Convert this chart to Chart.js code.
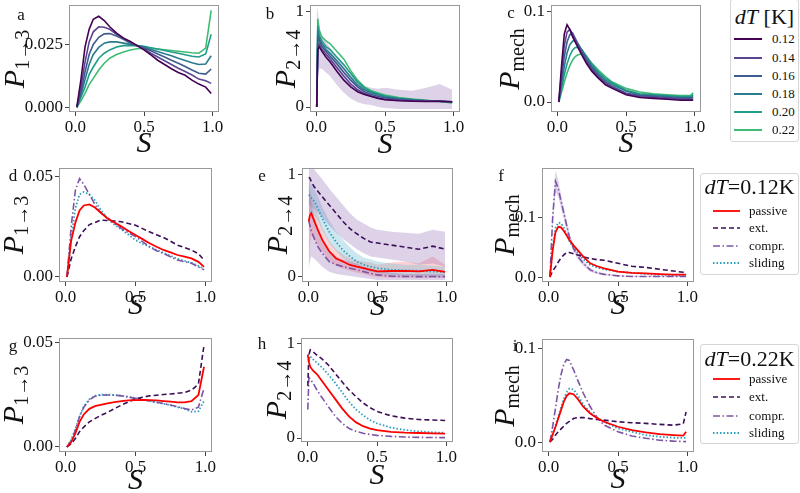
<!DOCTYPE html>
<html>
<head>
<meta charset="utf-8">
<script src="https://cdn.jsdelivr.net/npm/chart.js@4.4.0/dist/chart.umd.min.js"></script>
<style>
  body { margin: 0; background: #fff; }
  #fig { position: relative; width: 800px; height: 493px; overflow: hidden; font-family: "Liberation Serif", serif; color: #111; }
  #fig canvas { position: absolute; }
  .lbl { position: absolute; white-space: nowrap; line-height: 1; }
  .ylab { font-size: 30px; transform: translate(-50%, -50%) rotate(-90deg); }
  .ylab sub { font-size: 20px; font-style: normal; vertical-align: -0.25em; }
  .xlab { font-size: 30px; font-style: italic; transform: translate(-50%, -50%); }
  .letter { font-size: 17px; transform: translate(-50%, -50%); }
  .legend { position: absolute; background: #fff; border: 1px solid #d6d6d6; border-radius: 3px; box-sizing: border-box; }
  .legend .title { position: absolute; left: 0; right: 0; text-align: center; font-size: 22px; transform: translateY(-50%); }
  .legend .row { position: absolute; font-size: 13px; transform: translateY(-50%); }
  .legend svg { position: absolute; overflow: visible; }
</style>
</head>
<body>
<div id="fig"></div>
<script>
// S grids
const S13 = [0.01, 0.04, 0.07, 0.1, 0.13, 0.17, 0.21, 0.25, 0.3, 0.35, 0.4, 0.45, 0.5, 0.55, 0.6, 0.65, 0.7, 0.75, 0.8, 0.85, 0.9, 0.95, 0.99];
const S24 = [0.002, 0.01, 0.02, 0.04, 0.07, 0.1, 0.15, 0.2, 0.25, 0.3, 0.35, 0.4, 0.45, 0.5, 0.6, 0.7, 0.8, 0.9, 0.99];
const SMECH = [0.01, 0.03, 0.05, 0.07, 0.09, 0.11, 0.13, 0.15, 0.18, 0.21, 0.25, 0.3, 0.35, 0.4, 0.5, 0.6, 0.7, 0.8, 0.9, 0.97, 0.99];

const DT_LABELS = ["0.12", "0.14", "0.16", "0.18", "0.20", "0.22"];
const DT_COLORS = ["#440154", "#5a4590", "#3d5b8c", "#2a7b8e", "#1f9d88", "#3fbc73"];
const MODES = ["passive", "ext.", "compr.", "sliding"];

// panel a : P 1->3 vs S, per dT
const a_012 = [0, 0.011, 0.024, 0.031, 0.035, 0.0362, 0.0345, 0.032, 0.0295, 0.0275, 0.0262, 0.0245, 0.0228, 0.0208, 0.0187, 0.017, 0.0153, 0.0138, 0.0127, 0.0108, 0.0092, 0.008, 0.0055];
const a_014 = [0, 0.008, 0.018, 0.026, 0.030, 0.032, 0.0318, 0.031, 0.029, 0.0275, 0.026, 0.0245, 0.0232, 0.0215, 0.02, 0.0185, 0.017, 0.0155, 0.0142, 0.0128, 0.0112, 0.0105, 0.0095];
const a_016 = [0, 0.006, 0.014, 0.021, 0.025, 0.0278, 0.0292, 0.0293, 0.0283, 0.027, 0.0255, 0.0245, 0.0235, 0.0225, 0.0212, 0.02, 0.0187, 0.0175, 0.0162, 0.0148, 0.0135, 0.0132, 0.0152];
const a_018 = [0, 0.005, 0.011, 0.017, 0.021, 0.0238, 0.0255, 0.026, 0.026, 0.0255, 0.025, 0.0245, 0.024, 0.023, 0.0222, 0.0213, 0.0205, 0.0195, 0.0186, 0.0177, 0.017, 0.0172, 0.0205];
const a_020 = [0, 0.004, 0.008, 0.013, 0.016, 0.0195, 0.0215, 0.0228, 0.024, 0.0245, 0.0246, 0.0245, 0.0242, 0.0237, 0.0232, 0.0226, 0.022, 0.0215, 0.0209, 0.0203, 0.02, 0.0212, 0.029];
const a_022 = [0, 0.0025, 0.0055, 0.009, 0.0115, 0.0148, 0.0175, 0.0195, 0.021, 0.022, 0.0228, 0.0233, 0.0235, 0.0234, 0.0232, 0.0229, 0.0226, 0.0223, 0.022, 0.0217, 0.0215, 0.0235, 0.0385];

// panel b : P 2->4 vs S, per dT
const b_012 = [0, 0.6, 0.63, 0.58, 0.52, 0.47, 0.37, 0.28, 0.21, 0.16, 0.13, 0.11, 0.09, 0.075, 0.065, 0.06, 0.058, 0.06, 0.055];
const b_014 = [0, 0.65, 0.66, 0.6, 0.55, 0.5, 0.41, 0.32, 0.24, 0.18, 0.14, 0.115, 0.095, 0.08, 0.07, 0.065, 0.06, 0.06, 0.055];
const b_016 = [0, 0.72, 0.7, 0.63, 0.58, 0.53, 0.45, 0.36, 0.28, 0.21, 0.16, 0.13, 0.11, 0.095, 0.08, 0.07, 0.065, 0.06, 0.055];
const b_018 = [0, 0.8, 0.72, 0.66, 0.6, 0.56, 0.48, 0.4, 0.31, 0.23, 0.18, 0.15, 0.125, 0.105, 0.085, 0.075, 0.065, 0.06, 0.05];
const b_020 = [0, 0.85, 0.75, 0.69, 0.63, 0.6, 0.52, 0.44, 0.35, 0.26, 0.2, 0.16, 0.135, 0.115, 0.09, 0.078, 0.068, 0.06, 0.048];
const b_022 = [0, 0.92, 0.8, 0.73, 0.69, 0.66, 0.58, 0.5, 0.38, 0.28, 0.21, 0.17, 0.145, 0.125, 0.1, 0.082, 0.07, 0.058, 0.042];
const b_band_hi = [1.06, 1.0, 0.85, 0.75, 0.68, 0.62, 0.52, 0.42, 0.33, 0.27, 0.22, 0.2, 0.19, 0.2, 0.18, 0.17, 0.2, 0.24, 0.18];
const b_band_lo = [-0.04, 0.3, 0.4, 0.4, 0.36, 0.32, 0.23, 0.15, 0.09, 0.05, 0.03, 0.02, 0.0, -0.01, -0.02, -0.02, -0.02, -0.02, -0.02];

// panel c : P mech vs S, per dT
const c_012 = [0, 0.04, 0.075, 0.085, 0.08, 0.072, 0.066, 0.06, 0.051, 0.043, 0.034, 0.026, 0.019, 0.015, 0.008, 0.005, 0.004, 0.003, 0.002, 0.002, 0.002];
const c_014 = [0, 0.032, 0.062, 0.077, 0.080, 0.075, 0.068, 0.062, 0.053, 0.045, 0.036, 0.027, 0.021, 0.016, 0.009, 0.006, 0.005, 0.004, 0.003, 0.003, 0.003];
const c_016 = [0, 0.026, 0.05, 0.066, 0.074, 0.076, 0.07, 0.064, 0.055, 0.047, 0.038, 0.029, 0.022, 0.017, 0.01, 0.007, 0.006, 0.005, 0.004, 0.004, 0.005];
const c_018 = [0, 0.02, 0.039, 0.054, 0.063, 0.067, 0.068, 0.064, 0.057, 0.049, 0.04, 0.031, 0.024, 0.019, 0.012, 0.008, 0.007, 0.006, 0.005, 0.005, 0.006];
const c_020 = [0, 0.015, 0.03, 0.042, 0.051, 0.057, 0.06, 0.06, 0.057, 0.051, 0.042, 0.033, 0.026, 0.021, 0.013, 0.009, 0.008, 0.007, 0.006, 0.006, 0.008];
const c_022 = [0, 0.011, 0.022, 0.032, 0.04, 0.046, 0.05, 0.052, 0.053, 0.05, 0.043, 0.035, 0.028, 0.022, 0.015, 0.011, 0.009, 0.008, 0.007, 0.007, 0.01];

// panel d : dT = 0.12 K, P 1->3
const d_passive = [0, 0.018, 0.027, 0.033, 0.0355, 0.036, 0.0345, 0.032, 0.029, 0.027, 0.025, 0.0228, 0.0208, 0.0188, 0.0167, 0.015, 0.0134, 0.0122, 0.0109, 0.0101, 0.0092, 0.0075, 0.005];
const d_ext = [0, 0.009, 0.015, 0.02, 0.023, 0.026, 0.027, 0.0282, 0.028, 0.0278, 0.0274, 0.0265, 0.0257, 0.024, 0.0224, 0.021, 0.0196, 0.0178, 0.0158, 0.0146, 0.0134, 0.0115, 0.0084];
const d_compr = [0, 0.025, 0.043, 0.0488, 0.046, 0.041, 0.036, 0.032, 0.0295, 0.0265, 0.024, 0.022, 0.02, 0.0175, 0.015, 0.013, 0.0117, 0.01, 0.0084, 0.0076, 0.0068, 0.005, 0.0035];
const d_sliding = [0, 0.02, 0.034, 0.041, 0.0422, 0.041, 0.038, 0.0335, 0.029, 0.026, 0.0235, 0.021, 0.0183, 0.0165, 0.015, 0.0135, 0.012, 0.0105, 0.009, 0.008, 0.007, 0.0055, 0.004];

// panel e : dT = 0.12 K, P 2->4
const e_passive = [0.54, 0.6, 0.62, 0.55, 0.45, 0.36, 0.25, 0.18, 0.15, 0.117, 0.1, 0.085, 0.07, 0.055, 0.058, 0.06, 0.055, 0.068, 0.05];
const e_ext = [0.97, 0.96, 0.93, 0.88, 0.83, 0.78, 0.70, 0.62, 0.54, 0.47, 0.42, 0.375, 0.34, 0.33, 0.31, 0.29, 0.27, 0.30, 0.27];
const e_compr = [0.55, 0.5, 0.45, 0.38, 0.29, 0.23, 0.15, 0.12, 0.1, 0.085, 0.07, 0.052, 0.035, 0.02, 0.008, 0.005, 0.003, 0.004, 0.003];
const e_sliding = [0.8, 0.79, 0.77, 0.74, 0.66, 0.57, 0.44, 0.34, 0.26, 0.2, 0.15, 0.12, 0.1, 0.085, 0.07, 0.065, 0.06, 0.052, 0.05];
const e_passive_hi = [1.0, 0.85, 0.8, 0.7, 0.6, 0.48, 0.35, 0.27, 0.22, 0.18, 0.16, 0.15, 0.14, 0.12, 0.14, 0.15, 0.13, 0.2, 0.12];
const e_passive_lo = [0.0, 0.3, 0.4, 0.38, 0.3, 0.25, 0.16, 0.11, 0.08, 0.06, 0.04, 0.03, 0.01, 0.0, -0.01, -0.01, -0.01, -0.01, -0.01];
const e_ext_hi = [1.06, 1.06, 1.06, 1.05, 1.0, 0.95, 0.86, 0.78, 0.70, 0.62, 0.56, 0.52, 0.48, 0.46, 0.44, 0.43, 0.42, 0.46, 0.44];
const e_ext_lo = [0.7, 0.7, 0.68, 0.66, 0.62, 0.58, 0.5, 0.43, 0.37, 0.32, 0.27, 0.23, 0.2, 0.19, 0.17, 0.15, 0.12, 0.13, 0.1];
const e_compr_hi = [0.9, 0.8, 0.72, 0.6, 0.45, 0.36, 0.26, 0.2, 0.17, 0.15, 0.13, 0.1, 0.08, 0.06, 0.04, 0.03, 0.03, 0.03, 0.03];
const e_compr_lo = [0.1, 0.15, 0.2, 0.18, 0.14, 0.1, 0.05, 0.03, 0.02, 0.01, 0.0, -0.01, -0.02, -0.03, -0.03, -0.03, -0.03, -0.03, -0.03];
const e_sliding_hi = [0.95, 0.92, 0.9, 0.86, 0.78, 0.68, 0.55, 0.44, 0.36, 0.29, 0.23, 0.19, 0.17, 0.15, 0.13, 0.12, 0.12, 0.11, 0.1];
const e_sliding_lo = [0.62, 0.62, 0.62, 0.6, 0.54, 0.45, 0.33, 0.25, 0.18, 0.13, 0.1, 0.07, 0.05, 0.04, 0.02, 0.01, 0.01, 0.0, 0.0];

// panel f : dT = 0.12 K, P mech
const f_passive = [0, 0.045, 0.075, 0.084, 0.083, 0.077, 0.07, 0.062, 0.053, 0.045, 0.034, 0.023, 0.018, 0.0144, 0.009, 0.007, 0.006, 0.005, 0.004, 0.004, 0.004];
const f_ext = [0, 0.01, 0.017, 0.025, 0.032, 0.037, 0.041, 0.041, 0.039, 0.037, 0.034, 0.031, 0.029, 0.028, 0.023, 0.018, 0.016, 0.013, 0.01, 0.008, 0.006];
const f_compr = [0, 0.1, 0.16, 0.148, 0.127, 0.107, 0.087, 0.067, 0.048, 0.035, 0.023, 0.012, 0.007, 0.0045, 0.002, 0.001, 0.001, 0.001, 0.001, 0.001, 0.001];
const f_sliding = [0, 0.05, 0.082, 0.091, 0.09, 0.082, 0.072, 0.06, 0.05, 0.041, 0.03, 0.02, 0.016, 0.013, 0.009, 0.007, 0.005, 0.004, 0.003, 0.002, 0.002];
const f_compr_hi = [0, 0.11, 0.178, 0.162, 0.138, 0.116, 0.095, 0.074, 0.054, 0.04, 0.027, 0.015, 0.009, 0.006, 0.003, 0.002, 0.002, 0.002, 0.002, 0.002, 0.002];
const f_compr_lo = [0, 0.09, 0.143, 0.134, 0.116, 0.098, 0.079, 0.06, 0.042, 0.03, 0.019, 0.009, 0.005, 0.003, 0.001, 0, 0, 0, 0, 0, 0];

// panel g : dT = 0.22 K, P 1->3
const g_passive = [0, 0.0022, 0.0065, 0.012, 0.0155, 0.0182, 0.0195, 0.0201, 0.0208, 0.0214, 0.0219, 0.0222, 0.0224, 0.0225, 0.0224, 0.0222, 0.0219, 0.0216, 0.0213, 0.0213, 0.0219, 0.0248, 0.0383];
const g_ext = [0, 0.0015, 0.004, 0.0073, 0.0095, 0.012, 0.0135, 0.015, 0.0165, 0.0183, 0.02, 0.0215, 0.0229, 0.0237, 0.0244, 0.0247, 0.025, 0.0253, 0.0256, 0.026, 0.0271, 0.030, 0.0486];
const g_compr = [0, 0.003, 0.008, 0.0144, 0.019, 0.0225, 0.0242, 0.0247, 0.0248, 0.0247, 0.0244, 0.0238, 0.0232, 0.0226, 0.0219, 0.0213, 0.0207, 0.02, 0.0192, 0.0184, 0.0176, 0.019, 0.028];
const g_sliding = [0, 0.0035, 0.0085, 0.0146, 0.0192, 0.0228, 0.0244, 0.0249, 0.025, 0.0248, 0.0245, 0.0239, 0.0233, 0.0227, 0.022, 0.0213, 0.0206, 0.0199, 0.019, 0.0182, 0.0168, 0.017, 0.022];

// panel h : dT = 0.22 K, P 2->4
const h_passive = [0.88, 0.8, 0.75, 0.71, 0.67, 0.61, 0.51, 0.41, 0.31, 0.225, 0.165, 0.125, 0.1, 0.083, 0.065, 0.057, 0.053, 0.05, 0.046];
const h_ext = [0.55, 0.88, 0.93, 0.91, 0.87, 0.84, 0.77, 0.68, 0.59, 0.505, 0.435, 0.37, 0.32, 0.28, 0.235, 0.21, 0.195, 0.19, 0.185];
const h_compr = [0.3, 0.64, 0.62, 0.58, 0.5, 0.435, 0.33, 0.23, 0.155, 0.1, 0.07, 0.05, 0.037, 0.028, 0.017, 0.01, 0.007, 0.005, 0.004];
const h_sliding = [0.88, 0.88, 0.86, 0.83, 0.79, 0.75, 0.67, 0.58, 0.48, 0.38, 0.3, 0.24, 0.19, 0.155, 0.11, 0.085, 0.07, 0.06, 0.055];

// panel i : dT = 0.22 K, P mech
const i_passive = [0, 0.008, 0.016, 0.025, 0.034, 0.043, 0.049, 0.052, 0.051, 0.046, 0.0376, 0.0305, 0.0255, 0.0216, 0.0163, 0.0128, 0.0103, 0.0085, 0.0074, 0.0068, 0.011];
const i_ext = [0, 0.003, 0.0074, 0.011, 0.014, 0.017, 0.02, 0.022, 0.025, 0.026, 0.0262, 0.025, 0.024, 0.0234, 0.0216, 0.0206, 0.0199, 0.0188, 0.018, 0.0195, 0.032];
const i_compr = [0, 0.017, 0.036, 0.056, 0.072, 0.083, 0.088, 0.087, 0.077, 0.066, 0.052, 0.0376, 0.026, 0.018, 0.011, 0.0064, 0.004, 0.002, 0.001, 0.0006, 0.0005];
const i_sliding = [0, 0.009, 0.018, 0.027, 0.037, 0.046, 0.053, 0.057, 0.056, 0.05, 0.04, 0.0316, 0.026, 0.0216, 0.0145, 0.011, 0.0074, 0.0057, 0.0046, 0.0044, 0.0046];

// line styles for the four modes
const MODE_STYLE = {
  "passive": { color: "#ff0000", dash: [], width: 1.8 },
  "ext.": { color: "#3b0f58", dash: [5, 3], width: 1.6 },
  "compr.": { color: "#7d55a6", dash: [7, 2.5, 1.5, 2.5], width: 1.6 },
  "sliding": { color: "#2b9ebd", dash: [1.5, 2], width: 1.8 },
};
const BAND = {
  purple: "rgba(135, 95, 175, 0.28)",
  red: "rgba(255, 110, 110, 0.30)",
  blue: "rgba(110, 185, 210, 0.35)",
};

const fig = document.getElementById("fig");
const YW = 64, XH = 30, PT = 12, PR = 18;

function pts(xs, ys) {
  return xs.map((x, k) => ({ x: x, y: ys[k] }));
}

const framePlugin = {
  id: "frame",
  afterDraw(chart) {
    const { ctx, chartArea: a } = chart;
    ctx.save();
    ctx.strokeStyle = "#999";
    ctx.lineWidth = 1;
    ctx.strokeRect(Math.round(a.left) + 0.5, Math.round(a.top) + 0.5, Math.round(a.right - a.left) - 1, Math.round(a.bottom - a.top) - 1);
    ctx.restore();
  },
};

function addText(cls, html, x, y) {
  const el = document.createElement("div");
  el.className = "lbl " + cls;
  el.innerHTML = html;
  el.style.left = x + "px";
  el.style.top = y + "px";
  fig.appendChild(el);
}

function makePanel(p) {
  const cv = document.createElement("canvas");
  const cw = p.W + YW + PR, ch = p.H + PT + XH;
  cv.width = cw; cv.height = ch;
  cv.style.left = (p.L - YW) + "px";
  cv.style.top = (p.T - PT) + "px";
  cv.style.width = cw + "px"; cv.style.height = ch + "px";
  fig.appendChild(cv);

  const datasets = [];
  p.lines.forEach((ln) => {
    datasets.push({
      data: pts(p.xs, ln.data), borderColor: ln.color, borderWidth: ln.width,
      borderDash: ln.dash, fill: false, pointRadius: 0, tension: 0, order: 0,
    });
  });
  (p.bands || []).forEach((b) => {
    datasets.push({ data: pts(p.xs, b.hi), borderWidth: 0, pointRadius: 0, fill: false, order: 5 });
    datasets.push({ data: pts(p.xs, b.lo), borderWidth: 0, pointRadius: 0, fill: "-1", backgroundColor: b.color, order: 5 });
  });

  const tickFont = { family: "Liberation Serif", size: 17 };
  new Chart(cv, {
    type: "line",
    data: { datasets: datasets },
    options: {
      responsive: false, animation: false, devicePixelRatio: 1,
      layout: { padding: { top: PT, right: PR, left: 0, bottom: 0 } },
      plugins: { legend: { display: false }, tooltip: { enabled: false } },
      scales: {
        x: {
          type: "linear", min: -0.047, max: 1.047,
          afterBuildTicks: (s) => { s.ticks = [0, 0.5, 1].map((v) => ({ value: v })); },
          afterFit: (s) => { s.height = XH; },
          ticks: { font: tickFont, color: "#111", padding: 1, maxRotation: 0, autoSkip: false, callback: (v) => v.toFixed(1) },
          grid: { drawOnChartArea: false, tickLength: 4, tickColor: "#444" },
          border: { display: false },
        },
        y: {
          type: "linear", min: p.ymin, max: p.ymax,
          afterBuildTicks: (s) => { s.ticks = p.yt.map((v) => ({ value: v })); },
          afterFit: (s) => { s.width = YW; },
          ticks: { font: tickFont, color: "#111", padding: 2, autoSkip: false, callback: (v) => v.toFixed(p.dec) },
          grid: { drawOnChartArea: false, tickLength: 4, tickColor: "#444" },
          border: { display: false },
        },
      },
    },
    plugins: [framePlugin],
  });

  addText("letter", p.letter, p.lx, p.ly);
  addText("ylab", p.ylabel, p.ylx, p.T + p.H / 2);
  addText("xlab", "S", p.L + p.W / 2, p.xly);
}

function dtLines(arrs) {
  return arrs.map((d, k) => ({ data: d, color: DT_COLORS[k], width: 1.6, dash: [] }));
}
function modeLines(arrs) {
  return arrs.map((d, k) => {
    const st = MODE_STYLE[MODES[k]];
    return { data: d, color: st.color, width: st.width, dash: st.dash };
  });
}

const Y13 = "<i>P</i><sub>1→3</sub>";
const Y24 = "<i>P</i><sub>2→4</sub>";
const YME = "<i>P</i><sub>mech</sub>";

const panels = [
  { letter: "a", lx: 21, ly: 14, L: 69, T: 5, W: 150, H: 107, ymin: -0.0019, ymax: 0.0406, yt: [0, 0.025], dec: 3, xs: S13,
    lines: dtLines([a_012, a_014, a_016, a_018, a_020, a_022]), ylabel: Y13, ylx: 15, xly: 142 },
  { letter: "b", lx: 270, ly: 13, L: 310, T: 5, W: 150, H: 107, ymin: -0.052, ymax: 1.0625, yt: [0, 1], dec: 0, xs: S24,
    lines: dtLines([b_012, b_014, b_016, b_018, b_020, b_022]),
    bands: [{ hi: b_band_hi, lo: b_band_lo, color: BAND.purple }], ylabel: Y24, ylx: 286, xly: 143 },
  { letter: "c", lx: 511, ly: 12, L: 551, T: 5, W: 150, H: 107, ymin: -0.011, ymax: 0.1066, yt: [0, 0.1], dec: 1, xs: SMECH,
    lines: dtLines([c_012, c_014, c_016, c_018, c_020, c_022]), ylabel: YME, ylx: 510, xly: 142 },

  { letter: "d", lx: 13, ly: 175, L: 59, T: 168, W: 153, H: 114, ymin: -0.0025, ymax: 0.054, yt: [0, 0.05], dec: 2, xs: S13,
    lines: modeLines([d_passive, d_ext, d_compr, d_sliding]), ylabel: Y13, ylx: 14, xly: 304 },
  { letter: "e", lx: 262, ly: 175, L: 302, T: 168, W: 151, H: 114, ymin: -0.049, ymax: 1.058, yt: [0, 1], dec: 0, xs: S24,
    lines: modeLines([e_passive, e_ext, e_compr, e_sliding]),
    bands: [
      { hi: e_ext_hi, lo: e_ext_lo, color: BAND.purple },
      { hi: e_compr_hi, lo: e_compr_lo, color: BAND.purple },
      { hi: e_sliding_hi, lo: e_sliding_lo, color: BAND.blue },
      { hi: e_passive_hi, lo: e_passive_lo, color: BAND.red },
    ], ylabel: Y24, ylx: 278, xly: 305 },
  { letter: "f", lx: 501, ly: 175, L: 542, T: 168, W: 152, H: 114, ymin: -0.0083, ymax: 0.182, yt: [0, 0.1], dec: 1, xs: SMECH,
    lines: modeLines([f_passive, f_ext, f_compr, f_sliding]),
    bands: [{ hi: f_compr_hi, lo: f_compr_lo, color: BAND.purple }], ylabel: YME, ylx: 505, xly: 304 },

  { letter: "g", lx: 13, ly: 345, L: 59, T: 338, W: 153, H: 114, ymin: -0.0024, ymax: 0.0519, yt: [0, 0.05], dec: 2, xs: S13,
    lines: modeLines([g_passive, g_ext, g_compr, g_sliding]), ylabel: Y13, ylx: 14, xly: 479 },
  { letter: "h", lx: 262, ly: 343, L: 301, T: 338, W: 152, H: 104, ymin: -0.042, ymax: 1.053, yt: [0, 1], dec: 0, xs: S24,
    lines: modeLines([h_passive, h_ext, h_compr, h_sliding]), ylabel: Y24, ylx: 277, xly: 474 },
  { letter: "i", lx: 515, ly: 345, L: 542, T: 339, W: 152, H: 113, ymin: -0.0106, ymax: 0.1096, yt: [0, 0.1], dec: 1, xs: SMECH,
    lines: modeLines([i_passive, i_ext, i_compr, i_sliding]), ylabel: YME, ylx: 505, xly: 478 },
];

panels.forEach(makePanel);

// legends (html boxes, styles taken from the same definitions)
function makeLegend(box, titleHtml, titleY, entries, rowY, lineX0, lineX1, textX) {
  const lg = document.createElement("div");
  lg.className = "legend";
  lg.style.left = box.x + "px"; lg.style.top = box.y + "px";
  lg.style.width = box.w + "px"; lg.style.height = box.h + "px";
  const t = document.createElement("div");
  t.className = "title";
  t.innerHTML = titleHtml;
  t.style.top = (titleY - box.y - 1) + "px";
  lg.appendChild(t);
  entries.forEach((en, k) => {
    const y = rowY[k] - box.y - 1;
    const svg = document.createElementNS("http://www.w3.org/2000/svg", "svg");
    svg.setAttribute("width", lineX1 - lineX0);
    svg.setAttribute("height", 4);
    svg.style.left = (lineX0 - box.x - 1) + "px";
    svg.style.top = (y - 2) + "px";
    const ln = document.createElementNS("http://www.w3.org/2000/svg", "line");
    ln.setAttribute("x1", 0); ln.setAttribute("x2", lineX1 - lineX0);
    ln.setAttribute("y1", 2); ln.setAttribute("y2", 2);
    ln.setAttribute("stroke", en.color);
    ln.setAttribute("stroke-width", en.width);
    if (en.dash.length) ln.setAttribute("stroke-dasharray", en.dash.join(" "));
    svg.appendChild(ln);
    lg.appendChild(svg);
    const tx = document.createElement("div");
    tx.className = "row";
    tx.textContent = en.label;
    tx.style.left = (textX - box.x - 1) + "px";
    tx.style.top = y + "px";
    lg.appendChild(tx);
  });
  fig.appendChild(lg);
}

const dtEntries = DT_LABELS.map((l, k) => ({ label: l, color: DT_COLORS[k], width: 2, dash: [] }));
makeLegend({ x: 730, y: -1, w: 69, h: 143 }, "<i>dT</i> [K]", 17, dtEntries,
  [39.3, 57.5, 75.7, 93.9, 112.1, 130.3], 734, 762, 772);

const modeEntries = MODES.map((m) => ({ label: m, color: MODE_STYLE[m].color, width: MODE_STYLE[m].width, dash: MODE_STYLE[m].dash }));
makeLegend({ x: 700, y: 173, w: 99, h: 102 }, "<i>dT</i>=0.12K", 187, modeEntries,
  [210.7, 228.3, 246, 262.7], 713, 740, 749);
makeLegend({ x: 700, y: 344, w: 99, h: 100 }, "<i>dT</i>=0.22K", 358.5, modeEntries,
  [379, 396.7, 415.7, 432.7], 713, 740, 749);
</script>
</body>
</html>
